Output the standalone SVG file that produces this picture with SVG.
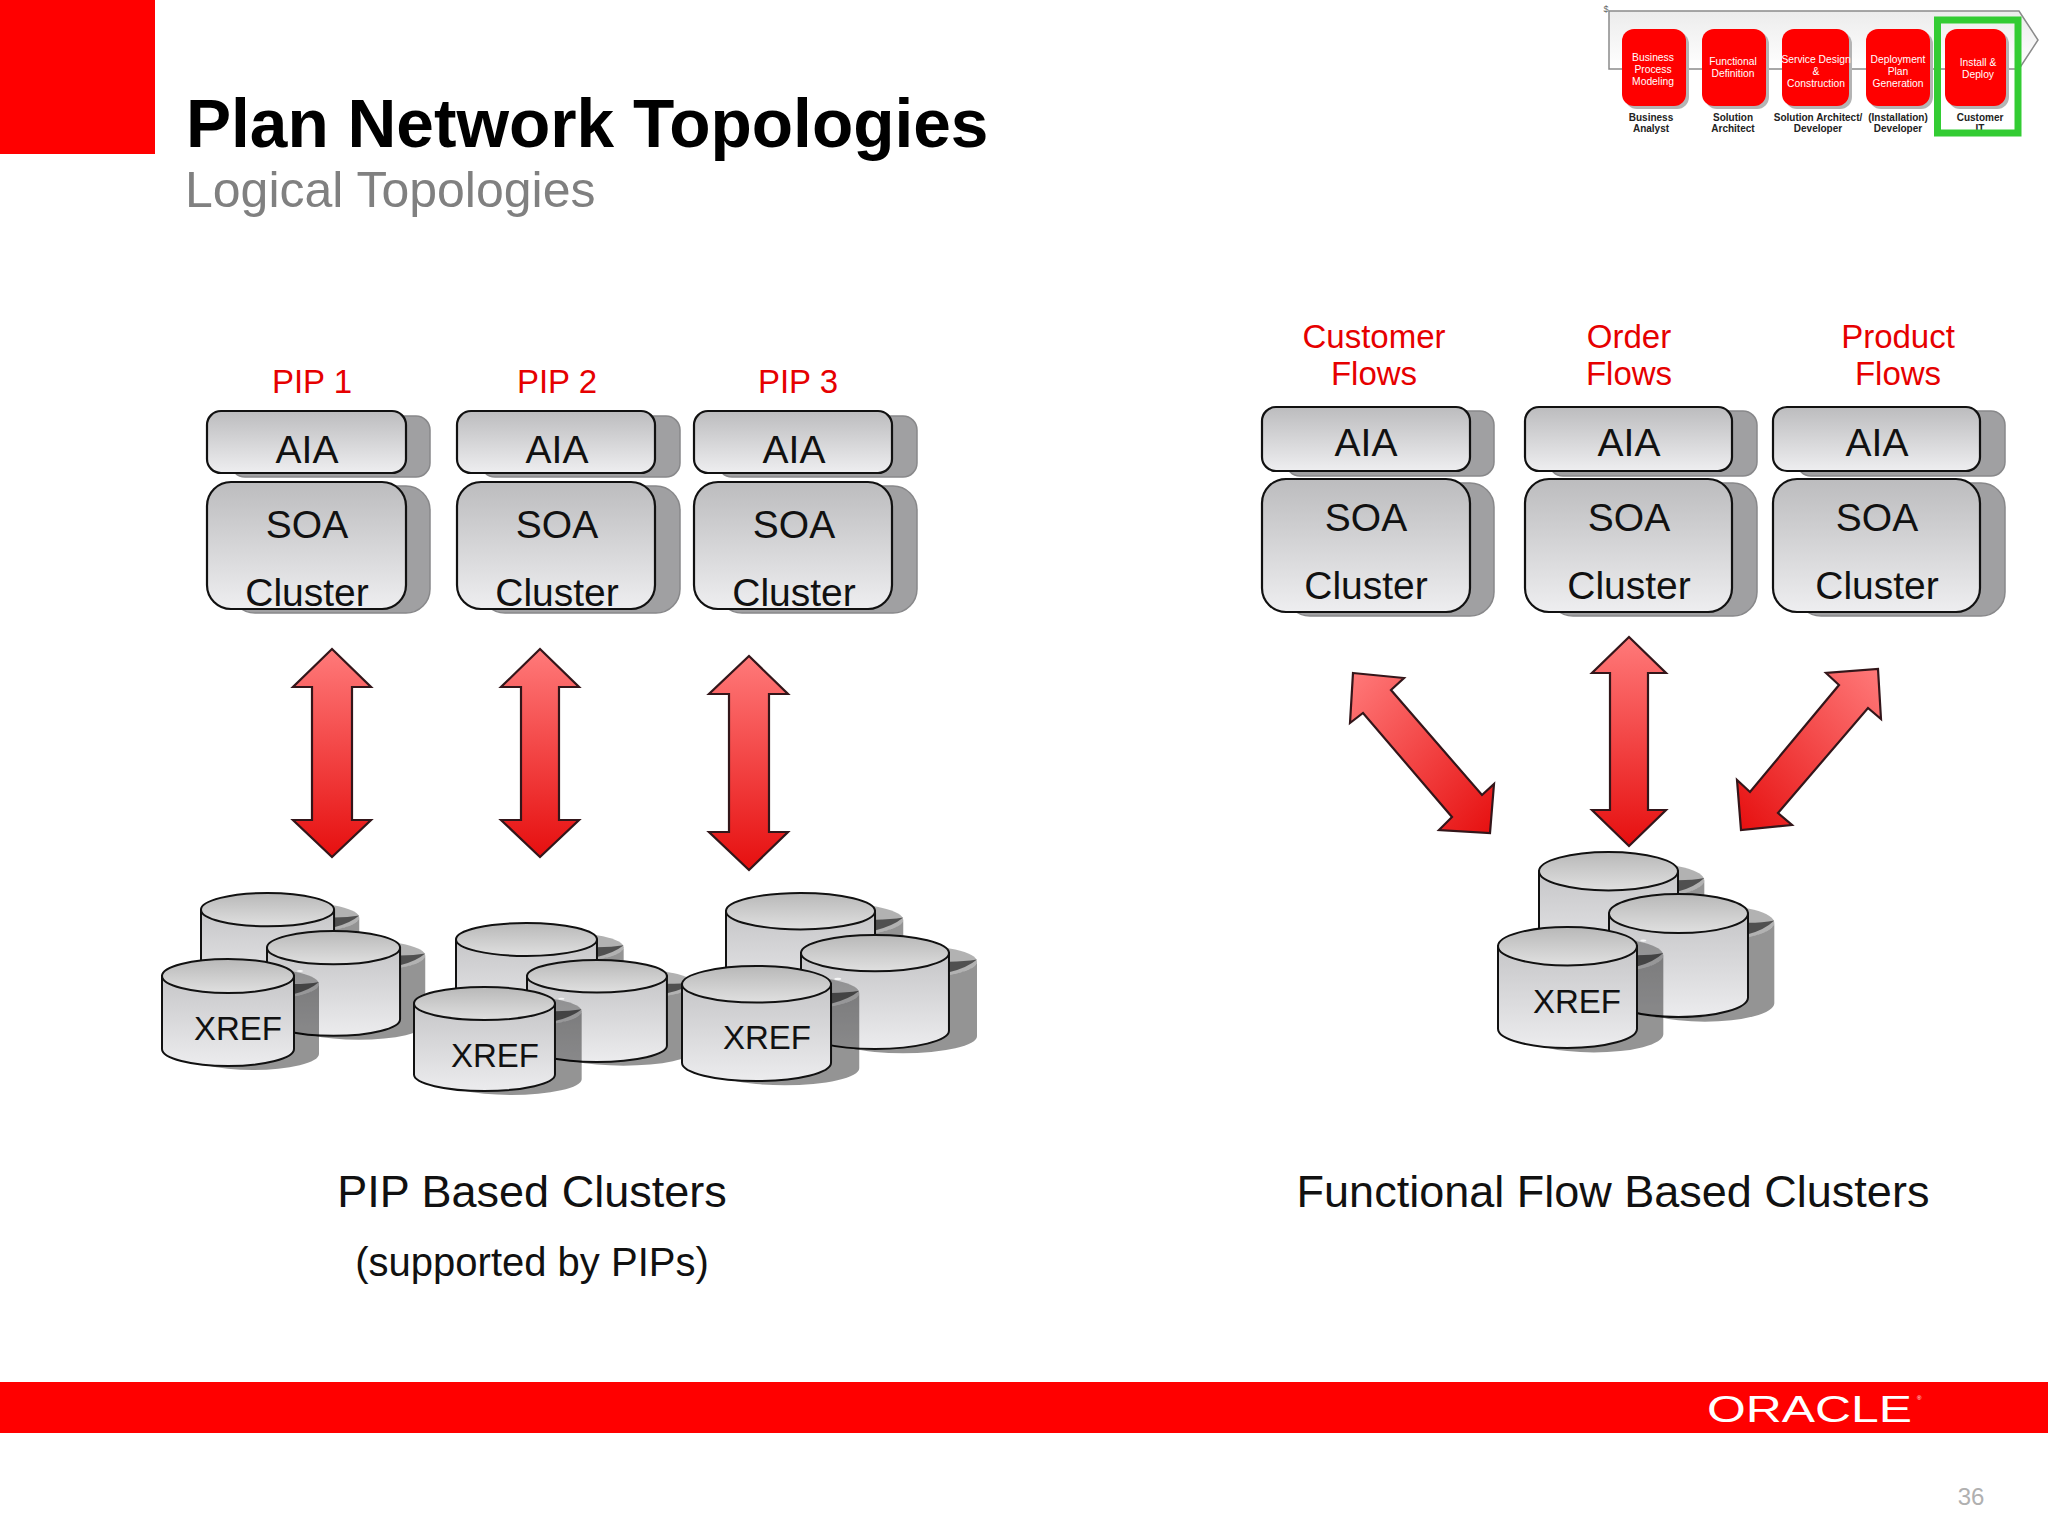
<svg xmlns="http://www.w3.org/2000/svg" xmlns:xlink="http://www.w3.org/1999/xlink" width="2048" height="1536" viewBox="0 0 2048 1536">
<style>
text{font-family:"Liberation Sans",Arial,sans-serif;text-anchor:middle}
.red{font-size:33px;fill:#e60000}
.t{font-size:39px;fill:#111}
.x{font-size:33px;fill:#111}
.cap{font-size:45px;fill:#111}
.boxs{fill:#a0a0a2;stroke:#88888a;stroke-width:1.5}
.box{fill:url(#gBox);stroke:#111;stroke-width:2.2}
.arrow{fill:url(#gArrow);stroke:#33161a;stroke-width:2.2;stroke-linejoin:miter}
.pb{fill:#ff0000}
.ps{fill:#b4b4b4}
.pt{font-size:10.3px;fill:#fff}
.pl{font-size:10px;font-weight:bold;fill:#222}
.cb{fill:url(#gBody);stroke:#111;stroke-width:2;vector-effect:non-scaling-stroke}
.ct{fill:url(#gTop);stroke:#111;stroke-width:2;vector-effect:non-scaling-stroke}
</style>
<defs>
<linearGradient id="gBox" x1="0" y1="0" x2="0" y2="1"><stop offset="0" stop-color="#bcbcbe"/><stop offset="1" stop-color="#eeeef0"/></linearGradient>
<linearGradient id="gArrow" x1="0" y1="0" x2="0" y2="1"><stop offset="0" stop-color="#ff7a7a"/><stop offset="1" stop-color="#e60f0f"/></linearGradient>
<linearGradient id="gArrowL" x1="0" y1="0" x2="1" y2="1"><stop offset="0" stop-color="#ff7a7a"/><stop offset="1" stop-color="#e60f0f"/></linearGradient>
<linearGradient id="gArrowR" x1="1" y1="0" x2="0" y2="1"><stop offset="0" stop-color="#ff7a7a"/><stop offset="1" stop-color="#e60f0f"/></linearGradient>
<linearGradient id="gBody" x1="0" y1="0" x2="0" y2="1"><stop offset="0" stop-color="#c6c6c8"/><stop offset="1" stop-color="#ececee"/></linearGradient>
<linearGradient id="gTop" x1="0" y1="0" x2="0" y2="1"><stop offset="0" stop-color="#b8b8b8"/><stop offset="1" stop-color="#e0e0e0"/></linearGradient>
<linearGradient id="gChev" x1="0" y1="0" x2="0" y2="1"><stop offset="0" stop-color="#ececec"/><stop offset="1" stop-color="#ffffff"/></linearGradient>
<g id="cyl">
<path d="M25,25 A66,16 0 0 0 157,25 V95 A66,16 0 0 1 25,95 Z" fill="#000" fill-opacity="0.42"/>
<ellipse cx="91" cy="25" rx="66" ry="16" fill="#000" fill-opacity="0.3"/>
<path d="M132,25 Q146,25 157,23 Q148,31 132,35 Z" fill="#000" fill-opacity="0.55"/>
<ellipse cx="138" cy="12" rx="3" ry="1" fill="#fff" fill-opacity="0.8"/>
<path class="cb" d="M0,17 V90 A66,17 0 0 0 132,90 V17 Z"/>
<ellipse class="ct" cx="66" cy="17" rx="66" ry="17"/>
</g>
</defs>
<rect width="2048" height="1536" fill="#ffffff"/>
<rect id="corner" width="155" height="154" fill="#ff0000"/>
<g id="title">
<text x="186" y="147" style="text-anchor:start;font-size:67.6px;font-weight:bold;fill:#000">Plan Network Topologies</text>
<text x="185" y="207" style="text-anchor:start;font-size:50px;fill:#808080">Logical Topologies</text>
</g>
<g id="process">
<text x="1606" y="12" style="font-size:9px;fill:#666">$</text>
<path d="M1609,11 H2019 L2038,40 L2019,69 H1609 Z" fill="url(#gChev)" stroke="#8a8a8a" stroke-width="1.5"/>
<g id="step1"><rect class="ps" x="1625" y="32" width="64" height="77" rx="12"/><rect class="pb" x="1622" y="29" width="64" height="77" rx="12"/><text class="pt" x="1653" y="61">Business</text><text class="pt" x="1653" y="73">Process</text><text class="pt" x="1653" y="85">Modeling</text><text class="pl" x="1651" y="121">Business</text><text class="pl" x="1651" y="132">Analyst</text></g>
<g id="step2"><rect class="ps" x="1705" y="32" width="64" height="77" rx="12"/><rect class="pb" x="1702" y="29" width="64" height="77" rx="12"/><text class="pt" x="1733" y="65">Functional</text><text class="pt" x="1733" y="77">Definition</text><text class="pl" x="1733" y="121">Solution</text><text class="pl" x="1733" y="132">Architect</text></g>
<g id="step3"><rect class="ps" x="1785" y="32" width="67" height="77" rx="12"/><rect class="pb" x="1782" y="29" width="67" height="77" rx="12"/><text class="pt" x="1816" y="63">Service Design</text><text class="pt" x="1816" y="75">&amp;</text><text class="pt" x="1816" y="87">Construction</text><text class="pl" x="1818" y="121">Solution Architect/</text><text class="pl" x="1818" y="132">Developer</text></g>
<g id="step4"><rect class="ps" x="1869" y="32" width="64" height="77" rx="12"/><rect class="pb" x="1866" y="29" width="64" height="77" rx="12"/><text class="pt" x="1898" y="63">Deployment</text><text class="pt" x="1898" y="75">Plan</text><text class="pt" x="1898" y="87">Generation</text><text class="pl" x="1898" y="121">(Installation)</text><text class="pl" x="1898" y="132">Developer</text></g>
<g id="step5"><rect class="ps" x="1948" y="32" width="61" height="77" rx="12"/><rect class="pb" x="1945" y="29" width="61" height="77" rx="12"/><text class="pt" x="1978" y="66">Install &amp;</text><text class="pt" x="1978" y="78">Deploy</text><text class="pl" x="1980" y="121">Customer</text><text class="pl" x="1980" y="132">IT</text></g>
<rect id="highlight" x="1937.5" y="20" width="80.5" height="113" fill="none" stroke="#33cc33" stroke-width="7"/>
</g>
<g id="labels">
<text class="red" x="312" y="393">PIP 1</text>
<text class="red" x="557" y="393">PIP 2</text>
<text class="red" x="798" y="393">PIP 3</text>
<text class="red" x="1374" y="348">Customer</text><text class="red" x="1374" y="385">Flows</text>
<text class="red" x="1629" y="348">Order</text><text class="red" x="1629" y="385">Flows</text>
<text class="red" x="1898" y="348">Product</text><text class="red" x="1898" y="385">Flows</text>
</g>
<g id="stack-pip1">
<rect class="boxs" x="231" y="416" width="199" height="61" rx="14"/><rect class="box" x="207" y="411" width="199" height="62" rx="14"/><text class="t" x="307" y="463">AIA</text>
<rect class="boxs" x="231" y="486" width="199" height="127" rx="24"/><rect class="box" x="207" y="482" width="199" height="127" rx="24"/><text class="t" x="307" y="538">SOA</text><text class="t" x="307" y="606">Cluster</text>
</g>
<g id="stack-pip2">
<rect class="boxs" x="481" y="416" width="199" height="61" rx="14"/><rect class="box" x="457" y="411" width="198" height="62" rx="14"/><text class="t" x="557" y="463">AIA</text>
<rect class="boxs" x="481" y="486" width="199" height="127" rx="24"/><rect class="box" x="457" y="482" width="198" height="127" rx="24"/><text class="t" x="557" y="538">SOA</text><text class="t" x="557" y="606">Cluster</text>
</g>
<g id="stack-pip3">
<rect class="boxs" x="718" y="416" width="199" height="61" rx="14"/><rect class="box" x="694" y="411" width="198" height="62" rx="14"/><text class="t" x="794" y="463">AIA</text>
<rect class="boxs" x="718" y="486" width="199" height="127" rx="24"/><rect class="box" x="694" y="482" width="198" height="127" rx="24"/><text class="t" x="794" y="538">SOA</text><text class="t" x="794" y="606">Cluster</text>
</g>
<g id="stack-customer">
<rect class="boxs" x="1286" y="411" width="208" height="65" rx="14"/><rect class="box" x="1262" y="407" width="208" height="64" rx="14"/><text class="t" x="1366" y="456">AIA</text>
<rect class="boxs" x="1286" y="483" width="208" height="133" rx="24"/><rect class="box" x="1262" y="479" width="208" height="133" rx="24"/><text class="t" x="1366" y="531">SOA</text><text class="t" x="1366" y="599">Cluster</text>
</g>
<g id="stack-order">
<rect class="boxs" x="1549" y="411" width="208" height="65" rx="14"/><rect class="box" x="1525" y="407" width="207" height="64" rx="14"/><text class="t" x="1629" y="456">AIA</text>
<rect class="boxs" x="1549" y="483" width="208" height="133" rx="24"/><rect class="box" x="1525" y="479" width="207" height="133" rx="24"/><text class="t" x="1629" y="531">SOA</text><text class="t" x="1629" y="599">Cluster</text>
</g>
<g id="stack-product">
<rect class="boxs" x="1797" y="411" width="208" height="65" rx="14"/><rect class="box" x="1773" y="407" width="207" height="64" rx="14"/><text class="t" x="1877" y="456">AIA</text>
<rect class="boxs" x="1797" y="483" width="208" height="133" rx="24"/><rect class="box" x="1773" y="479" width="207" height="133" rx="24"/><text class="t" x="1877" y="531">SOA</text><text class="t" x="1877" y="599">Cluster</text>
</g>
<g id="connectors">
<polygon class="arrow" points="332,649 371,687 352,687 352,820 371,820 332,857 293,820 312,820 312,687 293,687"/>
<polygon class="arrow" points="540,649 579,687 559,687 559,820 579,820 540,857 501,820 521,820 521,687 501,687"/>
<polygon class="arrow" points="749,656 788,694 769,694 769,832 788,832 749,870 709,832 729,832 729,694 709,694"/>
<polygon class="arrow" style="fill:url(#gArrowL)" points="1353,673 1404,678 1391,690 1482,795 1494,784 1490,833 1439,830 1452,817 1363,713 1350,723"/>
<polygon class="arrow" points="1629,637 1666,673 1648,673 1648,810 1666,810 1629,846 1592,810 1610,810 1610,673 1592,673"/>
<polygon class="arrow" style="fill:url(#gArrowR)" points="1878,669 1881,719 1868,708 1778,813 1792,825 1741,830 1737,780 1750,792 1839,685 1826,673"/>
</g>
<g id="db-pip1">
<use xlink:href="#cyl" href="#cyl" transform="translate(201,893) scale(1.008,0.98)"/>
<use xlink:href="#cyl" href="#cyl" transform="translate(267,931) scale(1.008,0.98)"/>
<use xlink:href="#cyl" href="#cyl" transform="translate(162,959)"/>
<text class="x" x="238" y="1040">XREF</text>
</g>
<g id="db-pip2">
<use xlink:href="#cyl" href="#cyl" transform="translate(456,923) scale(1.068,0.97)"/>
<use xlink:href="#cyl" href="#cyl" transform="translate(527,960) scale(1.06,0.953)"/>
<use xlink:href="#cyl" href="#cyl" transform="translate(414,987) scale(1.068,0.972)"/>
<text class="x" x="495" y="1067">XREF</text>
</g>
<g id="db-pip3">
<use xlink:href="#cyl" href="#cyl" transform="translate(726,893) scale(1.129,1.07)"/>
<use xlink:href="#cyl" href="#cyl" transform="translate(801,935) scale(1.121,1.065)"/>
<use xlink:href="#cyl" href="#cyl" transform="translate(682,966) scale(1.129,1.075)"/>
<text class="x" x="767" y="1049">XREF</text>
</g>
<g id="db-flow">
<use xlink:href="#cyl" href="#cyl" transform="translate(1539,852) scale(1.053,1.13)"/>
<use xlink:href="#cyl" href="#cyl" transform="translate(1609,894) scale(1.053,1.15)"/>
<use xlink:href="#cyl" href="#cyl" transform="translate(1498,927) scale(1.053,1.13)"/>
<text class="x" x="1577" y="1013">XREF</text>
</g>
<g id="captions">
<text class="cap" x="532" y="1207">PIP Based Clusters</text>
<text x="532" y="1276" style="font-size:40px;fill:#111">(supported by PIPs)</text>
<text class="cap" x="1613" y="1207">Functional Flow Based Clusters</text>
</g>
<rect id="footer" y="1382" width="2048" height="51" fill="#ff0000"/>
<g id="logo">
<text x="1707" y="1422" textLength="205" lengthAdjust="spacingAndGlyphs" style="text-anchor:start;font-size:36px;fill:#fff">ORACLE</text>
<text x="1917" y="1400" style="text-anchor:start;font-size:6px;fill:#fff">®</text>
</g>
<text id="page" x="1971" y="1505" style="font-size:24px;fill:#b0b0b0">36</text>
</svg>
